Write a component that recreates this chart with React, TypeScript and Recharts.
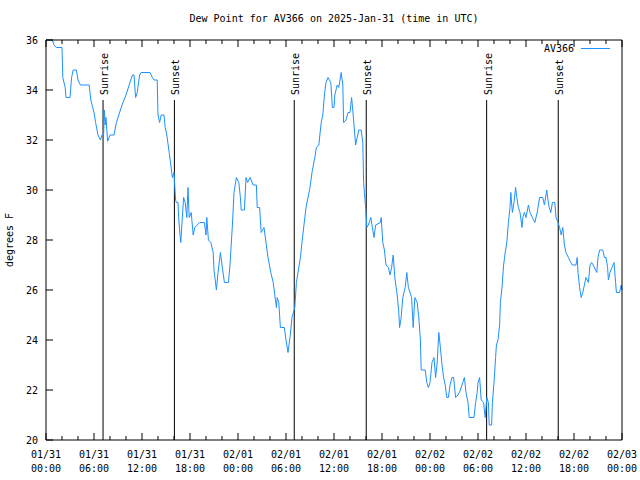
import { LineChart, Line, XAxis, YAxis, ReferenceLine } from "recharts";

// hours since 2025-01-31 00:00 UTC
const hours = [
  0, 0.8, 1.0, 1.3, 2.0, 2.1, 2.4, 2.5, 3.0, 3.2, 3.4, 3.8, 4.0, 4.3, 5.4, 5.6, 6.0, 6.2, 6.5, 6.8,
  7.0, 7.2, 7.3, 7.4, 7.5, 7.7, 8.0, 8.5, 8.8, 9.1, 9.5, 10.0, 10.4, 10.8, 11.0, 11.2, 11.4, 11.7, 11.9, 13.0,
  13.3, 13.5, 13.9, 14.0, 14.2, 14.4, 14.75, 14.9, 15.1, 15.4, 15.6, 15.8, 16.0, 16.2, 16.3, 16.5, 16.6, 16.75, 16.85, 17.0,
  17.2, 17.4, 17.6, 17.75, 17.9, 18.15, 18.4, 18.6, 19.2, 19.8, 20.0, 20.1, 20.3, 20.6, 20.9, 21.0, 21.3, 21.5, 21.8, 22.0,
  22.3, 22.8, 23.0, 23.3, 23.5, 23.8, 24.1, 24.3, 24.4, 24.8, 25.0, 25.2, 25.5, 25.9, 26.3, 26.4, 26.7, 26.9, 27.25, 27.5,
  27.75, 28.1, 28.4, 28.6, 28.8, 28.9, 29.1, 29.3, 29.8, 30.0, 30.25, 30.5, 30.75, 31.1, 31.3, 31.5, 31.8, 32.1, 32.5, 33.0,
  33.25, 33.6, 33.8, 34.1, 34.4, 34.6, 34.8, 35.0, 35.25, 35.6, 35.8, 36.0, 36.1, 36.4, 36.6, 36.9, 37.1, 37.2, 37.5, 37.75,
  38.0, 38.2, 38.4, 38.5, 38.7, 38.9, 39.1, 39.4, 39.6, 39.7, 39.8, 40.0, 40.1, 40.3, 40.6, 40.8, 41.0, 41.2, 41.8, 41.9,
  42.1, 42.3, 42.5, 42.8, 43.0, 43.2, 43.4, 43.6, 43.9, 44.1, 44.2, 44.4, 44.6, 44.9, 45.1, 45.3, 45.7, 45.9, 46.1, 46.4,
  46.6, 46.8, 46.9, 47.4, 47.6, 47.8, 48.0, 48.25, 48.5, 48.7, 48.9, 49.1, 49.3, 49.5, 49.7, 49.9, 50.1, 50.3, 50.5, 50.75,
  50.95, 51.2, 51.5, 51.8, 52.1, 52.3, 52.5, 52.75, 52.9, 53.5, 53.7, 53.9, 54.0, 54.2, 54.4, 54.7, 54.9, 55.1, 55.3, 55.4,
  55.7, 55.8, 56.0, 56.2, 56.3, 56.5, 56.7, 56.8, 57.0, 57.2, 57.4, 57.6, 57.8, 58.0, 58.1, 58.3, 58.5, 58.7, 58.85, 59.05,
  59.25, 59.5, 59.6, 59.8, 60.0, 60.3, 60.5, 60.8, 61.1, 61.4, 61.7, 62.1, 62.3, 62.6, 62.7, 62.9, 63.1, 63.3, 63.6, 63.75,
  64.0, 64.2, 64.4, 64.6, 64.8, 65.0, 65.3, 65.6, 65.8, 66.25, 66.4, 66.5, 66.7, 66.9, 67.1, 67.3, 67.5, 67.8, 68.0, 68.2,
  68.4, 68.7, 68.85, 69.0, 69.2, 69.6, 69.8, 70.0, 70.2, 70.3, 70.5, 70.75, 71.0, 71.2, 71.3, 71.7, 71.9, 72.0,
];

const dewPoint = [
  36.0, 36.0, 35.8, 35.7, 35.7, 34.5, 34.1, 33.7, 33.7, 34.5, 34.8, 34.8, 34.4, 34.2, 34.2, 33.6, 33.1, 32.7, 32.2, 32.0,
  32.2, 32.2, 33.2, 32.6, 32.9, 31.95, 32.2, 32.2, 32.7, 33.0, 33.4, 33.8, 34.2, 34.6, 34.6, 33.7, 33.9, 34.6, 34.7, 34.7,
  34.5, 34.4, 34.4, 33.0, 32.7, 33.0, 33.0, 32.5, 32.2, 31.5, 31.0, 30.5, 30.7, 29.6, 29.5, 29.5, 28.8, 28.2, 27.9, 28.7,
  29.7, 29.5, 28.9, 30.1, 28.9, 29.1, 28.2, 28.5, 28.7, 28.7, 28.2, 28.9, 28.0, 27.9, 27.5, 26.8, 26.0, 26.7, 27.5, 27.0,
  26.3, 26.3, 27.0, 28.6, 29.9, 30.5, 30.3, 29.7, 29.2, 29.2, 30.5, 30.3, 30.5, 30.2, 30.2, 29.3, 29.3, 28.3, 28.5, 27.9,
  27.3, 26.7, 26.3, 25.8, 25.3, 25.7, 25.5, 24.5, 24.5, 24.0, 23.5, 24.1, 24.9, 25.3, 26.3, 26.7, 27.3, 28.2, 29.3, 30.1,
  30.7, 31.3, 31.7, 31.8, 32.7, 33.0, 33.8, 34.3, 34.5, 34.3, 33.3, 33.3, 33.8, 34.2, 34.1, 34.7, 34.2, 32.7, 32.8, 33.1,
  33.1, 33.7, 33.0, 32.6, 31.8, 32.1, 32.4, 32.4, 31.9, 30.3, 29.9, 29.1, 28.5, 28.6, 28.9, 28.5, 28.1, 28.6, 28.7, 28.9,
  27.9, 27.6, 27.0, 26.9, 26.6, 26.9, 27.4, 26.5, 25.8, 25.1, 24.5, 24.9, 25.7, 26.1, 26.7, 26.1, 25.7, 24.5, 25.7, 25.5,
  24.9, 24.0, 22.8, 22.8, 22.3, 22.1, 22.3, 23.1, 23.3, 22.5, 23.1, 24.3, 23.7, 23.0, 22.5, 22.2, 21.7, 21.7, 22.2, 22.5,
  22.5, 21.7, 21.8, 22.0, 22.3, 22.5, 21.9, 21.5, 20.9, 20.9, 21.5, 21.9, 22.3, 22.5, 21.6, 21.5, 20.9, 21.7, 21.5, 20.6,
  20.6, 21.5, 22.3, 23.3, 23.8, 24.0, 24.6, 25.5, 26.1, 27.0, 27.5, 27.9, 28.7, 29.3, 29.9, 29.1, 29.5, 30.1, 29.7, 29.3,
  29.1, 28.5, 28.9, 29.1, 28.9, 29.4, 29.1, 28.9, 28.7, 29.1, 29.7, 29.7, 29.4, 30.0, 29.7, 29.3, 29.1, 29.5, 29.5, 28.9,
  28.7, 28.5, 28.2, 28.5, 27.8, 27.5, 27.3, 27.1, 27.0, 27.0, 27.3, 26.7, 26.1, 25.7, 25.9, 26.2, 26.5, 26.3, 27.0, 27.1,
  27.0, 26.8, 26.7, 27.3, 27.6, 27.6, 27.3, 27.3, 26.9, 26.4, 26.7, 26.9, 27.1, 26.3, 25.9, 25.9, 26.2, 26.0,
];

const sunEvents = [
  { name: "Sunrise", h: 7.13 },
  { name: "Sunset", h: 16.05 },
  { name: "Sunrise", h: 31.03 },
  { name: "Sunset", h: 40.03 },
  { name: "Sunrise", h: 55.08 },
  { name: "Sunset", h: 64.03 },
];

const xTicks = [0, 2, 4, 6, 8, 10, 12, 14, 16, 18, 20, 22, 24, 26, 28, 30, 32, 34, 36, 38, 40, 42, 44, 46, 48, 50, 52, 54, 56, 58, 60, 62, 64, 66, 68, 70, 72];
const dayLabels = ["01/31", "02/01", "02/02", "02/03"];
const yTicks = [20, 22, 24, 26, 28, 30, 32, 34, 36];

const data = hours.map((h, i) => ({ h, dew: dewPoint[i] }));

const FONT = "'DejaVu Sans Mono', monospace";
const BLUE = "#1e90ff";

function BottomTick({ x, y, payload }: any) {
  const h = payload.value;
  const major = h % 6 === 0;
  return (
    <g>
      <line x1={x} x2={x} y1={y} y2={y - (major ? 7 : 4)} stroke="#000" />
      {major && (
        <text x={x} y={y} textAnchor="middle" fontFamily={FONT} fontSize={10} fill="#000">
          <tspan x={x} dy={18}>{dayLabels[Math.floor(h / 24)]}</tspan>
          <tspan x={x} dy={14}>{String(h % 24).padStart(2, "0") + ":00"}</tspan>
        </text>
      )}
    </g>
  );
}

function TopTick({ x, y, payload }: any) {
  const major = payload.value % 6 === 0;
  return <line x1={x} x2={x} y1={y} y2={y + (major ? 7 : 4)} stroke="#000" />;
}

function LeftTick({ x, y, payload }: any) {
  return (
    <g>
      <line x1={x} x2={x + 7} y1={y} y2={y} stroke="#000" />
      <text x={x - 8} y={y} dy={4} textAnchor="end" fontFamily={FONT} fontSize={10} fill="#000">
        {payload.value}
      </text>
    </g>
  );
}

function RightTick({ x, y }: any) {
  return <line x1={x} x2={x - 7} y1={y} y2={y} stroke="#000" />;
}

function SunLabel({ viewBox, text }: any) {
  const x = viewBox.x + 1;
  const y = viewBox.y - 5;
  return (
    <text x={x} y={y} transform={`rotate(-90 ${x} ${y})`} dy={4} textAnchor="start" fontFamily={FONT} fontSize={10} fill="#000">
      {text}
    </text>
  );
}

export default function App() {
  return (
    <div style={{ position: "absolute", left: 0, top: 0, width: 640, height: 480, background: "#fff", fontFamily: FONT }}>
      <div style={{ position: "absolute", left: 0, width: 668, top: 12, textAlign: "center", fontSize: 10, lineHeight: "14px" }}>
        Dew Point for AV366 on 2025-Jan-31 (time in UTC)
      </div>
      <div
        style={{
          position: "absolute",
          left: 10,
          top: 240,
          fontSize: 10,
          lineHeight: "12px",
          whiteSpace: "nowrap",
          transform: "translate(-50%, -50%) rotate(-90deg)",
        }}
      >
        degrees F
      </div>
      <div style={{ position: "absolute", right: 66, top: 42, fontSize: 10, lineHeight: "14px" }}>AV366</div>
      <div style={{ position: "absolute", left: 581, top: 48, width: 29, height: 1, background: BLUE }} />
      <LineChart width={640} height={480} data={data} margin={{ top: 30, right: 8, bottom: 0, left: 0 }}>
        <XAxis
          xAxisId="bottom"
          dataKey="h"
          type="number"
          domain={[0, 72]}
          ticks={xTicks}
          interval={0}
          height={40}
          tickSize={0}
          tickMargin={0}
          tickLine={false}
          axisLine={{ stroke: "#000" }}
          tick={<BottomTick />}
        />
        <XAxis
          xAxisId="top"
          orientation="top"
          dataKey="h"
          type="number"
          domain={[0, 72]}
          ticks={xTicks}
          interval={0}
          height={10}
          tickSize={0}
          tickMargin={0}
          tickLine={false}
          axisLine={{ stroke: "#000" }}
          tick={<TopTick />}
        />
        <YAxis
          yAxisId="left"
          type="number"
          domain={[20, 36]}
          ticks={yTicks}
          interval={0}
          width={46}
          tickSize={0}
          tickMargin={0}
          tickLine={false}
          axisLine={{ stroke: "#000" }}
          tick={<LeftTick />}
        />
        <YAxis
          yAxisId="right"
          orientation="right"
          type="number"
          domain={[20, 36]}
          ticks={yTicks}
          interval={0}
          width={10}
          tickSize={0}
          tickMargin={0}
          tickLine={false}
          axisLine={{ stroke: "#000" }}
          tick={<RightTick />}
        />
        {sunEvents.map((s, i) => (
          <ReferenceLine
            key={i}
            xAxisId="bottom"
            yAxisId="left"
            segment={[
              { x: s.h, y: 20 },
              { x: s.h, y: 33.6 },
            ]}
            stroke="#000"
            strokeWidth={1}
            ifOverflow="visible"
            label={<SunLabel text={s.name} />}
          />
        ))}
        <Line
          xAxisId="bottom"
          yAxisId="left"
          type="linear"
          dataKey="dew"
          stroke={BLUE}
          strokeWidth={1}
          dot={false}
          isAnimationActive={false}
        />
      </LineChart>
    </div>
  );
}
